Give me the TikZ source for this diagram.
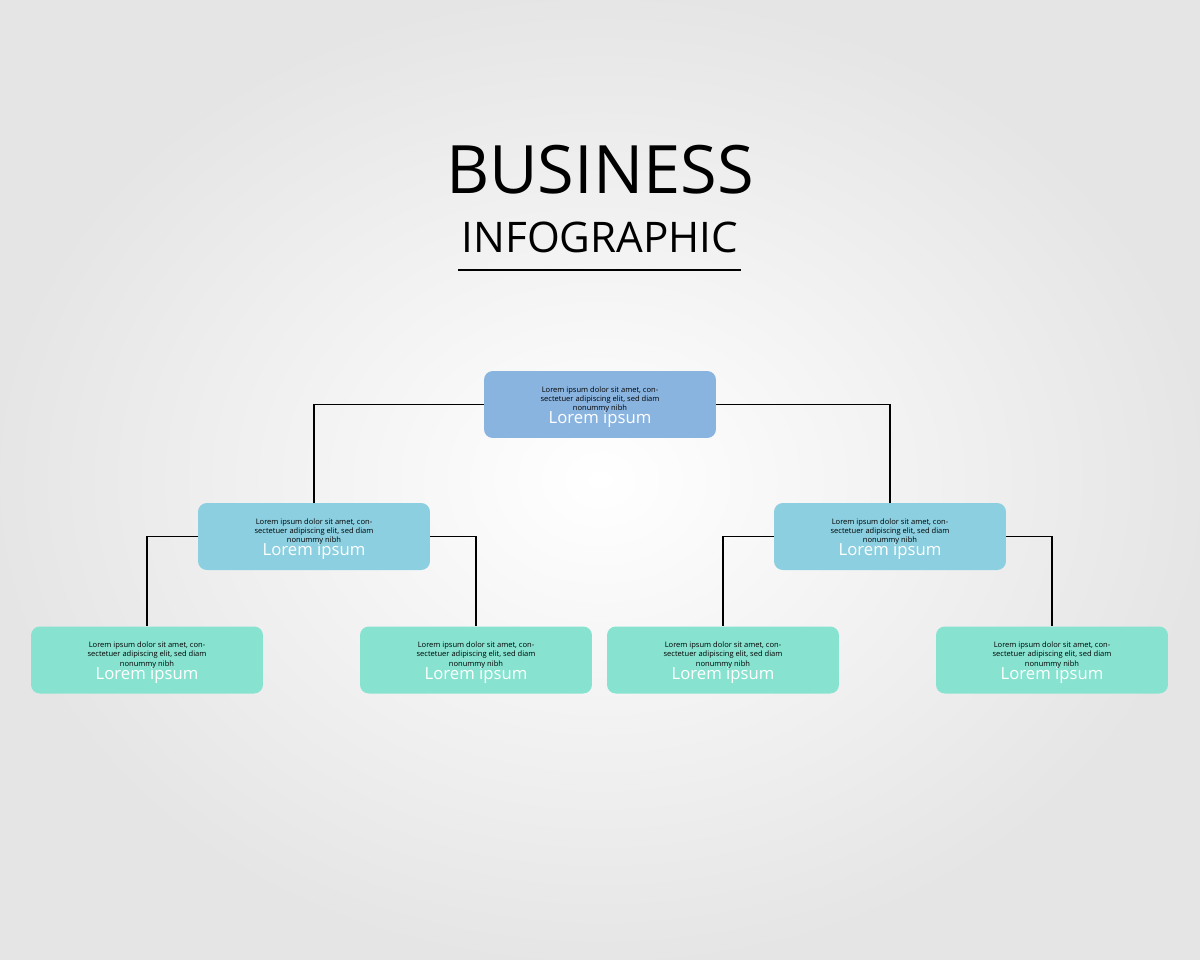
\documentclass[tikz,border=0pt]{standalone}
\usepackage{fontspec}
\setmainfont{Open Sans}
\definecolor{cone}{HTML}{8AB4E0}
\definecolor{ctwo}{HTML}{8BCFE0}
\definecolor{cthree}{HTML}{87E3D0}
\begin{document}
\begin{tikzpicture}[x=0.02cm,y=-0.02cm,
  bx/.style={rounded corners=5pt,minimum width=4.64cm,minimum height=1.34cm,inner sep=0pt},
  lvA/.style={bx,fill=cone}, lvB/.style={bx,fill=ctwo}, lvC/.style={bx,fill=cthree},
  hd/.style={text=white,font=\fontsize{9.5}{11}\selectfont,inner sep=0pt},
  bd/.style={align=center,font=\fontsize{4.3}{5.3}\selectfont,inner sep=0pt},
  conn/.style={draw=black,line width=1.1pt}]
\shade[inner color=white,outer color=black!10] (0,0) rectangle (1200,960);
\useasboundingbox (0,0) rectangle (1200,960);
\node (t1) at (600,170) {\fontsize{38}{40}\selectfont BUSINESS};
\node (t2) at (600,237) {\fontsize{24}{26}\selectfont INFOGRAPHIC};
\coordinate (ul1) at (458,270); \coordinate (ul2) at (741,270);
\draw[line width=1.7pt] (ul1) -- (ul2);
\node[lvA] (a) at (600,404.5) {};
\node[lvB] (b) at (314,536.5) {};
\node[lvB] (c) at (890,536.5) {};
\node[lvC] (d1) at (147,660) {};
\node[lvC] (d2) at (476,660) {};
\node[lvC] (d3) at (723,660) {};
\node[lvC] (d4) at (1052,660) {};
\foreach \n in {a,b,c,d1,d2,d3,d4}{
  \node[hd] (\n h) at ([yshift=-0.3cm]\n.center) {Lorem ipsum};
  \node[bd] (\n t) at ([yshift=0.1cm]\n.center) {Lorem ipsum dolor sit amet, con-\\sectetuer adipiscing elit, sed diam\\nonummy nibh};
}
\draw[conn] (a.west) -| (b.north);
\draw[conn] (a.east) -| (c.north);
\draw[conn] (b.west) -| (d1.north);
\draw[conn] (b.east) -| (d2.north);
\draw[conn] (c.west) -| (d3.north);
\draw[conn] (c.east) -| (d4.north);
\end{tikzpicture}
\end{document}
